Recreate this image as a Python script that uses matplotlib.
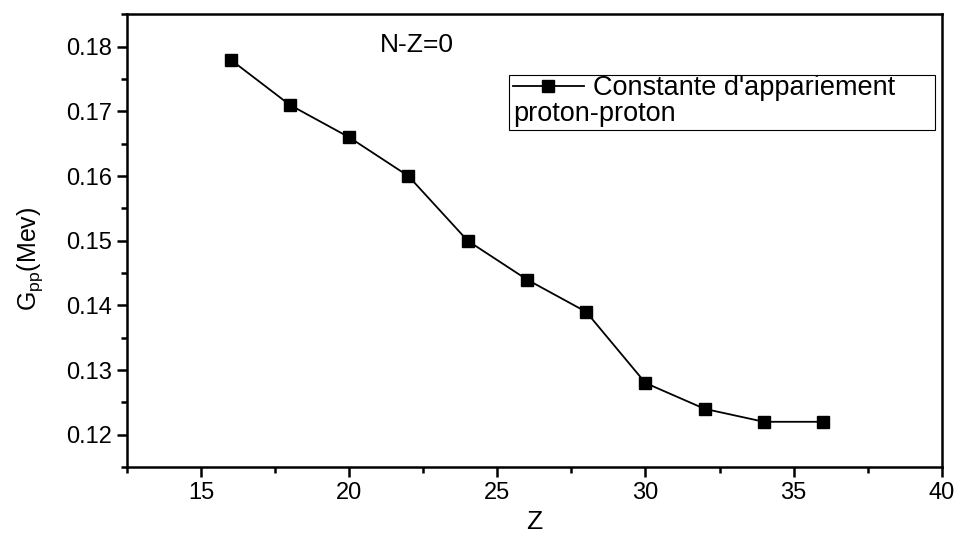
import matplotlib.pyplot as plt
from matplotlib.patches import Rectangle
from matplotlib.ticker import MultipleLocator

plt.rcParams["font.family"] = ["Liberation Sans", "DejaVu Sans"]
plt.rcParams["mathtext.default"] = "regular"

# Données
Z = [16, 18, 20, 22, 24, 26, 28, 30, 32, 34, 36]
Gpp = [0.178, 0.171, 0.166, 0.160, 0.150, 0.144, 0.139, 0.128, 0.124, 0.122, 0.122]

fig = plt.figure(figsize=(9.59, 5.35), dpi=100)
ax = fig.add_axes([0.1324, 0.127, 0.8496, 0.846])

ax.plot(Z, Gpp, color="black", lw=1.3, marker="s", markersize=8.5,
        label="Constante d'appariement")

ax.set_xlim(12.5, 40)
ax.set_ylim(0.115, 0.185)
ax.xaxis.set_major_locator(MultipleLocator(5))
ax.xaxis.set_minor_locator(MultipleLocator(2.5))
ax.yaxis.set_major_locator(MultipleLocator(0.01))
ax.yaxis.set_minor_locator(MultipleLocator(0.005))

for s in ax.spines.values():
    s.set_linewidth(1.8)
ax.tick_params(which="both", direction="out", width=1.8, top=False, right=False,
               labelsize=17)
ax.tick_params(which="major", length=7, pad=4)
ax.tick_params(which="minor", length=4.5)

ax.set_xlabel("Z", fontsize=19, labelpad=4)
ax.set_ylabel("G$_{pp}$(Mev)", fontsize=18)
ax.yaxis.set_label_coords(-0.1, 0.46)

ax.text(0.31, 0.932, "N-Z=0", transform=ax.transAxes, fontsize=19,
        ha="left", va="center")

# Légende avec cadre fait à la main (deuxième ligne alignée à gauche)
ax.legend(loc="center left", bbox_to_anchor=(0.474, 0.837), frameon=False,
          fontsize=19.5, handlelength=2.6, handletextpad=0.35,
          borderpad=0, borderaxespad=0)
ax.text(0.474, 0.781, "proton-proton", transform=ax.transAxes, fontsize=19.5,
        ha="left", va="center")
ax.add_patch(Rectangle((0.469, 0.744), 0.5227, 0.122, transform=ax.transAxes,
                       fill=False, edgecolor="black", lw=0.8))

plt.savefig("out.png", dpi=100)
